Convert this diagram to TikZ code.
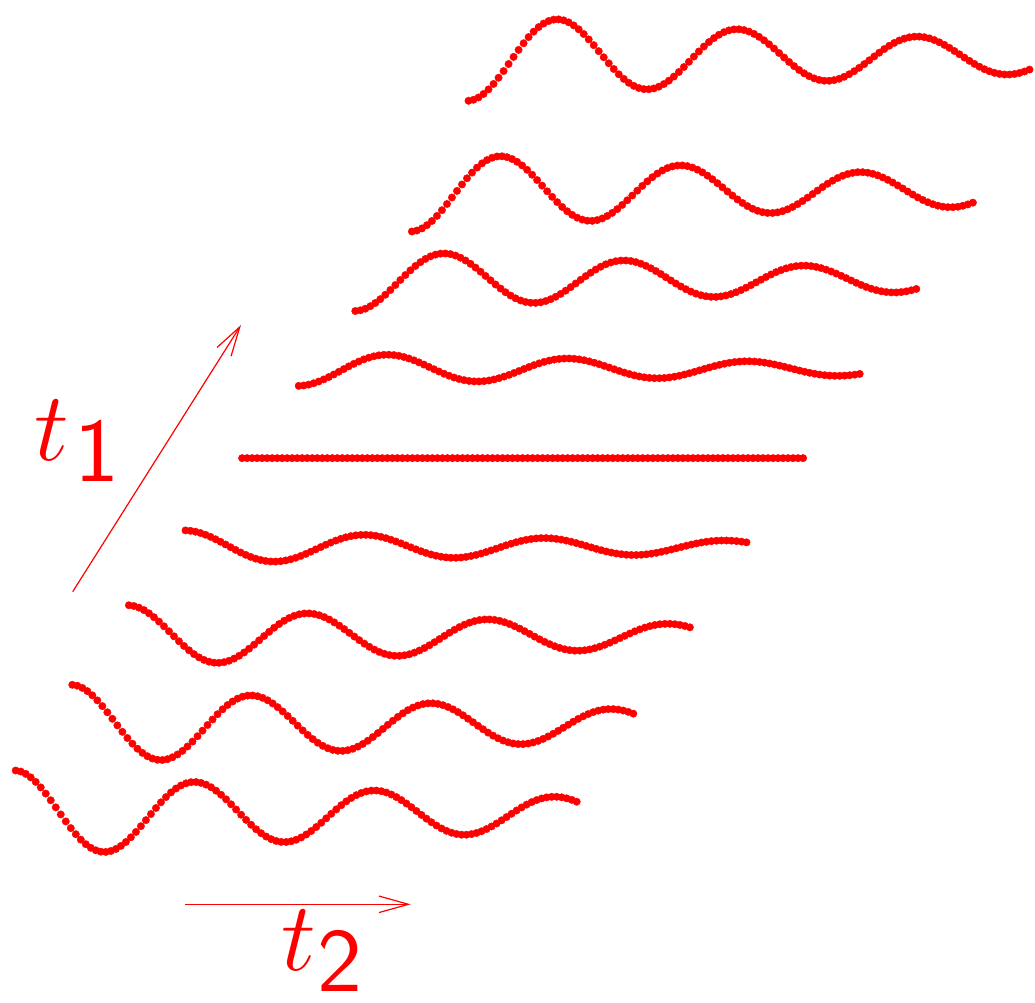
\RequirePackage{fix-cm}
\documentclass[tikz,border=0pt]{standalone}
\usetikzlibrary{arrows.meta}
\begin{document}
\begin{tikzpicture}[x=1pt,y=-1pt,
  wave/.style={red, line width=0.4pt},
  axisarrow/.style={red, line width=1.2pt, -{Straight Barb[length=29.5pt,width=16.5pt]}},
  lab/.style={red, inner sep=0pt, anchor=base west}]
\useasboundingbox (0,0) rectangle (1035,1002);
\foreach \k in {0,...,8} {
  \pgfmathsetmacro{\xo}{15.7+56.6*\k}
  \pgfmathsetmacro{\yc}{\k<8 ? 814.3-89.04*\k : 57}
  \pgfmathsetmacro{\amp}{43.8*cos(22.5*\k)}
  \draw[wave] plot[only marks, mark=*, mark size=3.7pt, domain=0:561, samples=113]
    ({\xo+\x}, {\yc-\amp*cos(2*\x)*exp(-\x/590)});
}
\coordinate (t1s) at (72.7,591.7);
\coordinate (t1e) at (241,325);
\coordinate (t2s) at (185,904.3);
\coordinate (t2e) at (410.7,904.3);
\draw[axisarrow] (t1s) -- (t1e);
\draw[axisarrow] (t2s) -- (t2e);
\node[lab] (t1) at (34.2,460.6) {\fontsize{98}{98}\selectfont$t$\kern5pt\raisebox{-21pt}{\scalebox{1.05}[1]{\fontsize{91}{91}\selectfont\sffamily 1}}};
\node[lab] (t2) at (281.5,970.6) {\fontsize{98}{98}\selectfont$t$\kern1.6pt\raisebox{-21pt}{\scalebox{1.05}[1]{\fontsize{91}{91}\selectfont\sffamily 2}}};
\end{tikzpicture}
\end{document}
